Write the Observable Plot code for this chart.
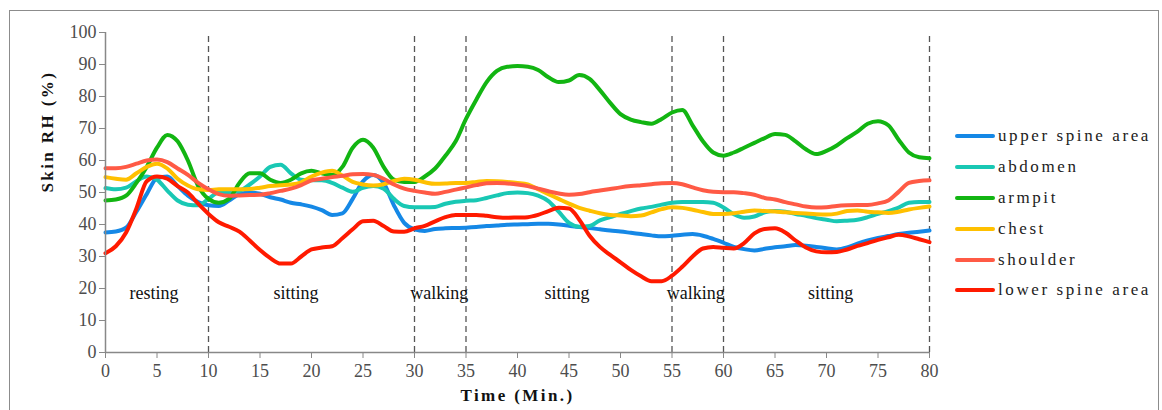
<!DOCTYPE html>
<html><head><meta charset="utf-8">
<script src="https://cdn.jsdelivr.net/npm/d3@7"></script>
<script src="https://cdn.jsdelivr.net/npm/@observablehq/plot@0.6"></script>
<style>
body{margin:0;background:#fff}
#wrap{position:relative;width:1162px;height:410px;overflow:hidden}
#frame{position:absolute;left:9px;top:10px;width:1150px;height:420px;border:1px solid #8c8c8c;box-sizing:border-box;pointer-events:none}
#legend{position:absolute;left:955px;top:121px;font-family:"Liberation Serif","Times New Roman",serif;font-size:17px;letter-spacing:2.6px;color:#222}
.row{display:flex;align-items:center;height:30.8px;white-space:nowrap}
.sw{width:40px;height:4px;border-radius:2px;margin-right:3px}
#chart{position:absolute;left:0;top:0}
</style></head>
<body>
<div id="wrap"><div id="chart"></div><div id="frame"></div><div id="legend"></div></div>
<script>
const seriesNames = ["upper spine area","abdomen","armpit","chest","shoulder","lower spine area"];
const seriesColors = ["#1588e6","#19c8b4","#12b512","#ffc000","#ff5a45","#ff1a00"];
const minutes = d3.range(0, 81);
const upperSpine = [37.5,37.8,39,44,49.5,54.5,55,52,49,47,46,45.8,47.5,49.5,50,49.6,48.5,47.8,46.8,46.3,45.6,44.5,43,43.5,48,53.5,55.5,53,46,40.5,38.5,38,38.6,38.8,38.9,39,39.2,39.5,39.7,39.9,40,40.1,40.2,40.2,40,39.6,39.2,38.9,38.5,38.1,37.8,37.4,37,36.6,36.3,36.5,36.8,37,36.5,35.5,34.3,33,32.3,31.9,32.4,32.9,33.2,33.6,33.4,33,32.6,32.2,32.8,34,35,35.8,36.4,37,37.4,37.7,38.1];
const abdomen = [51.4,51,51.5,53.5,55,54,50.6,47.5,46.2,46,48,50,50,50.5,52.5,55,58,58.7,56,54,53.8,53.8,53,51.5,50.2,51.5,52,51.2,48,45.8,45.4,45.4,45.5,46.5,47.1,47.4,47.6,48.3,49.1,49.8,50,49.8,49,47.3,44,40.5,39.3,39.5,41.3,42.3,43.3,44.2,45,45.5,46.2,46.8,47,47,47,46.8,45.3,43.2,42.1,42.5,43.8,44.2,44,43.3,42.7,42,41.5,41,41.2,41.5,42.3,43.3,44.2,45.3,46.8,47,47];
const armpit = [47.5,47.8,49,53,58,64,68,66,60,52,48,46.8,48,53,56,56,54,53,54,56,56.8,56,55.5,58,64,66.5,64,58,54,53.3,53.3,55,57.5,61.5,66,73,79,84.5,88,89.3,89.5,89.3,88.3,86,84.5,85,86.7,85.5,82,78,74.5,72.8,72,71.5,73,75,75.8,71,66,62.5,61.5,62.5,64,65.5,67,68.3,68,66,63.5,62,63,64.7,67,69,71.5,72.3,71,66.5,62.5,61,60.7];
const chest = [54.8,54.3,54,56,58,59,57.5,54.3,52.2,51,50.8,51,51,51,51.1,51.5,52,52.3,52.5,53.2,55,56.2,56.8,55.3,53.3,52.5,52.2,52.6,53.6,54.3,54,53.2,52.7,52.8,53,53,53.3,53.6,53.5,53.3,53,52.5,51,49.5,48,46.5,45.2,44.3,43.5,43,42.8,42.6,42.8,43.8,44.8,45.4,45.2,44.6,43.9,43.3,43.3,43.5,44,44.4,44.2,44.1,43.8,43.6,43.4,43.2,43.1,43.4,44.2,44.4,44,43.8,43.6,44,44.7,45.2,45.6];
const shoulder = [57.6,57.6,58,59,60,60.3,59.5,57.5,55.5,53,51,49.5,49,49.1,49.2,49.3,49.8,50.5,51.2,52.3,53.8,54.3,54.8,55.2,55.7,55.8,55.5,54.3,52.5,51.2,50.5,50,49.6,50.2,50.9,51.6,52.3,52.9,53,52.8,52.5,52,51.2,50.4,49.7,49.3,49.5,50.1,50.6,51.1,51.6,52,52.3,52.6,52.9,53,52.6,51.6,50.7,50.2,50.1,50.1,49.8,49.3,48.3,47.8,47,46.3,45.6,45.3,45.4,45.8,46,46.1,46.1,46.6,47.5,50.2,53,53.6,53.8];
const lowerSpine = [31,33.2,37.5,45,53.5,55,54.3,52,50,46.5,43.3,40.7,39.3,37.8,35,32,29.5,27.8,27.8,30,32.2,32.8,33.2,35.7,38.5,41,41.2,39.5,37.8,37.7,38.8,39.6,41,42.3,43,43,43,42.7,42.3,42.1,42.2,42.3,43,44.2,45.2,45,41.5,36.5,33,30.5,28.2,25.8,23.8,22.3,22.3,24,26.8,30,32.5,33,32.7,32.5,34.2,37.2,38.6,38.8,37.5,35,32.8,31.6,31.3,31.4,32.2,33.3,34.2,35.2,36,36.8,36.3,35.4,34.5];
const phaseBounds = [10, 30, 35, 55, 60, 80];
const phaseLabels = ["resting","sitting","walking","sitting","walking","sitting"];
const phaseCenters = [4.7, 18.5, 32.4, 44.8, 57.3, 70.4];
const xTicks = [0,5,10,15,20,25,30,35,40,45,50,55,60,65,70,75,80];
const yTicks = [0,10,20,30,40,50,60,70,80,90,100];
const yTitle = "Skin RH (%)";
const xTitle = "Time (Min.)";

const allSeries = [upperSpine, abdomen, armpit, chest, shoulder, lowerSpine];
const rows = [];
allSeries.forEach((vals, i) => vals.forEach((v, j) => rows.push({series: seriesNames[i], t: minutes[j], v})));

const serif = "'Liberation Serif', 'Times New Roman', serif";
const chart = Plot.plot({
  width: 1162, height: 410,
  marginLeft: 105, marginRight: 233, marginTop: 32, marginBottom: 58,
  style: {fontFamily: serif, fontSize: "18px", color: "#4d4d4d", background: "transparent"},
  x: {domain: [0, 80]},
  y: {domain: [0, 100]},
  color: {domain: seriesNames, range: seriesColors},
  marks: [
    Plot.ruleX(phaseBounds, {y1: 0, y2: 99, stroke: "#555", strokeWidth: 1.3, strokeDasharray: "6,4"}),
    Plot.line(rows, {x: "t", y: "v", z: "series", stroke: "series", strokeWidth: 4, curve: "monotone-x", strokeLinejoin: "round", strokeLinecap: "round"}),
    Plot.text(phaseLabels, {x: (d, i) => phaseCenters[i], y: 18.5, text: d => d, fill: "#111", fontSize: 18}),
    Plot.axisX({ticks: xTicks, tickSize: 6, tickPadding: 6, label: null, stroke: "#888", fill: "#4d4d4d"}),
    Plot.axisY({ticks: yTicks, tickSize: 6, tickPadding: 3, label: null, stroke: "#888", fill: "#4d4d4d"}),
    Plot.ruleY([0], {stroke: "#888", strokeWidth: 1.5}),
    Plot.ruleX([0], {stroke: "#888", strokeWidth: 1.5}),
    Plot.text([yTitle], {frameAnchor: "left", dx: -58, rotate: -90, fontFamily: serif, fontWeight: "bold", fontSize: 17, fill: "#111"}),
    Plot.text([xTitle], {frameAnchor: "bottom", dy: 48, fontFamily: serif, fontWeight: "bold", fontSize: 17, fill: "#111"})
  ]
});
d3.select(chart).selectAll("text")
  .filter(function() { const t = this.textContent; return t === yTitle || t === xTitle; })
  .style("letter-spacing", "2.4px");
document.getElementById("chart").appendChild(chart);

const legend = document.getElementById("legend");
seriesNames.forEach((name, i) => {
  const row = document.createElement("div");
  row.className = "row";
  const sw = document.createElement("div");
  sw.className = "sw";
  sw.style.background = seriesColors[i];
  const label = document.createElement("span");
  label.textContent = name;
  row.appendChild(sw); row.appendChild(label);
  legend.appendChild(row);
});
</script>
</body></html>
